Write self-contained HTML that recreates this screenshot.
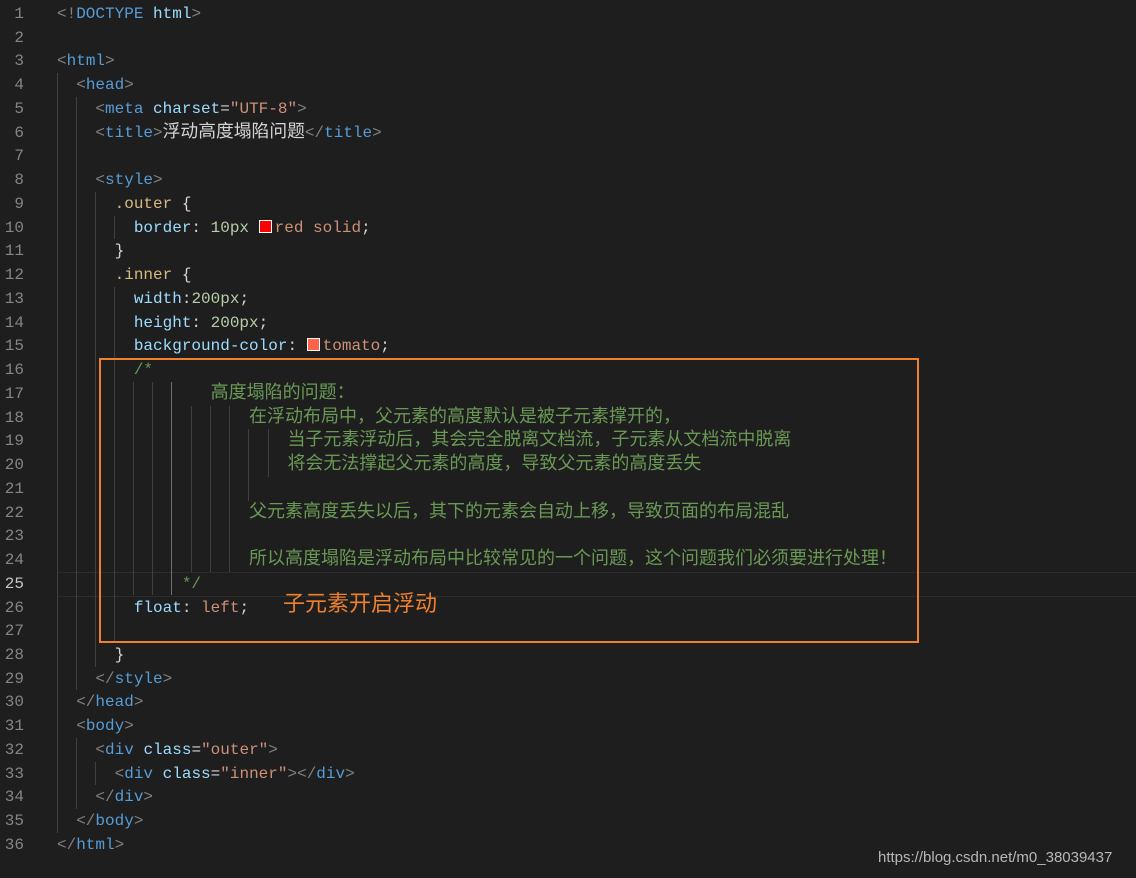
<!DOCTYPE html>
<html><head><meta charset="UTF-8"><style>
body{margin:0;width:1136px;height:878px;background:#1e1e1e;overflow:hidden;position:relative;font-family:"Liberation Mono",monospace;font-size:16px;}
.n{position:absolute;left:0;width:24px;text-align:right;color:#858585;height:24px;line-height:24px}
.l{position:absolute;left:57px;white-space:pre;color:#d4d4d4;height:24px;line-height:24px}
.c{font-family:"Liberation Mono","Noto Sans CJK SC",monospace;font-size:18px}
.g{position:absolute;width:1px;background:#404040}
.p{color:#808080}.t{color:#569cd6}.a{color:#9cdcfe}.s{color:#ce9178}.cm{color:#6a9955}.sel{color:#d7ba7d}.num{color:#b5cea8}.w{color:#d4d4d4}
.sw{display:inline-block;width:11px;height:11px;border:1px solid #fff;vertical-align:-1px;margin-right:3px}
</style></head><body>
<div style="position:absolute;left:57px;right:0;top:572px;height:23px;border-top:1px solid #2c2c2c;border-bottom:1px solid #2c2c2c"></div>
<div id="cont"></div>
<div style="position:absolute;left:99px;top:358px;width:816px;height:281px;border:2px solid #f0802e"></div>
<div style="position:absolute;left:283px;top:590px;color:#f0802e;font-family:'Liberation Sans','Noto Sans CJK SC',sans-serif;font-size:22px;line-height:28px">子元素开启浮动</div>
<div style="position:absolute;left:878px;top:849px;color:#b8b8b8;font-family:'Liberation Sans',sans-serif;font-size:15px;line-height:18px">https://blog.csdn.net/m0_38039437</div>
<script>
(function(){
var L=[
'<span class="p">&lt;!</span><span class="t">DOCTYPE</span> <span class="a">html</span><span class="p">&gt;</span>',
'',
'<span class="p">&lt;</span><span class="t">html</span><span class="p">&gt;</span>',
'  <span class="p">&lt;</span><span class="t">head</span><span class="p">&gt;</span>',
'    <span class="p">&lt;</span><span class="t">meta</span> <span class="a">charset</span>=<span class="s">"UTF-8"</span><span class="p">&gt;</span>',
'    <span class="p">&lt;</span><span class="t">title</span><span class="p">&gt;</span><span class="c" style="font-size:17.8px">浮动高度塌陷问题</span><span class="p">&lt;/</span><span class="t">title</span><span class="p">&gt;</span>',
'',
'    <span class="p">&lt;</span><span class="t">style</span><span class="p">&gt;</span>',
'      <span class="sel">.outer</span> {',
'        <span class="a">border</span>: <span class="num">10px</span> <span class="sw" style="background:red"></span><span class="s">red solid</span>;',
'      }',
'      <span class="sel">.inner</span> {',
'        <span class="a">width</span>:<span class="num">200px</span>;',
'        <span class="a">height</span>: <span class="num">200px</span>;',
'        <span class="a">background-color</span>: <span class="sw" style="background:tomato"></span><span class="s">tomato</span>;',
'        <span class="cm">/*</span>',
'                <span class="cm c">高度塌陷的问题：</span>',
'                    <span class="cm c">在浮动布局中，父元素的高度默认是被子元素撑开的，</span>',
'                        <span class="cm c">当子元素浮动后，其会完全脱离文档流，子元素从文档流中脱离</span>',
'                        <span class="cm c">将会无法撑起父元素的高度，导致父元素的高度丢失</span>',
'',
'                    <span class="cm c">父元素高度丢失以后，其下的元素会自动上移，导致页面的布局混乱</span>',
'',
'                    <span class="cm c">所以高度塌陷是浮动布局中比较常见的一个问题，这个问题我们必须要进行处理！</span>',
'             <span class="cm">*/</span>',
'        <span class="a">float</span>: <span class="s">left</span>;',
'',
'      }',
'    <span class="p">&lt;/</span><span class="t">style</span><span class="p">&gt;</span>',
'  <span class="p">&lt;/</span><span class="t">head</span><span class="p">&gt;</span>',
'  <span class="p">&lt;</span><span class="t">body</span><span class="p">&gt;</span>',
'    <span class="p">&lt;</span><span class="t">div</span> <span class="a">class</span>=<span class="s">"outer"</span><span class="p">&gt;</span>',
'      <span class="p">&lt;</span><span class="t">div</span> <span class="a">class</span>=<span class="s">"inner"</span><span class="p">&gt;&lt;/</span><span class="t">div</span><span class="p">&gt;</span>',
'    <span class="p">&lt;/</span><span class="t">div</span><span class="p">&gt;</span>',
'  <span class="p">&lt;/</span><span class="t">body</span><span class="p">&gt;</span>',
'<span class="p">&lt;/</span><span class="t">html</span><span class="p">&gt;</span>'];
var H=23.74,out='';
function tp(i){return 2+(i-1)*H;}
var G=[[57,4,35],[76,5,29],[76,32,34],[95,9,28],[95,33,33],[114,10,10],[114,13,27],[133,17,25],[152,17,25],[171,17,25],[191,18,24],[210,18,24],[229,18,24],[248,19,21],[268,19,20]];
G.forEach(function(g){out+='<div class="g" style="left:'+g[0]+'px;top:'+tp(g[1])+'px;height:'+((g[2]-g[1]+1)*H)+'px'+(g[0]==171?';background:#707070':'')+'"></div>';});
for(var i=1;i<=36;i++){
 out+='<div class="n" style="top:'+tp(i)+'px'+(i==25?';color:#c6c6c6':'')+'">'+i+'</div>';
 out+='<div class="l" style="top:'+tp(i)+'px">'+L[i-1]+'</div>';
}
document.getElementById('cont').innerHTML=out;
})();
</script>
</body></html>
